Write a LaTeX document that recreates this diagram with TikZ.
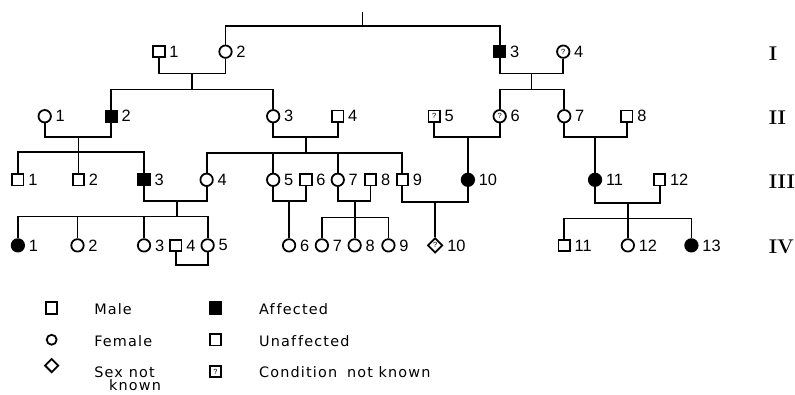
\documentclass[tikz,border=0pt]{standalone}
\usepackage{fontspec}
\newfontfamily\numfont{Liberation Sans}
\newfontfamily\legfont[LetterSpace=8]{DejaVu Sans}
\usetikzlibrary{shapes.geometric}
\newcommand\qmk{{\numfont\fontsize{7.5}{7.5}\selectfont ?}}
\begin{document}
\begin{tikzpicture}[x=1pt,y=-1pt,line width=1.8pt,
  pm/.style={draw,rectangle,minimum size=11.5pt,inner sep=0pt},
  pf/.style={draw,circle,minimum size=12.5pt,inner sep=0pt},
  pu/.style={draw,diamond,minimum size=15pt,inner sep=0pt},
  aff/.style={fill=black},
  every label/.style={font=\numfont\fontsize{16.5}{16.5}\selectfont,inner sep=0.5pt},
  label distance=2.5pt,
  rom/.style={font=\bfseries\fontsize{20}{20}\selectfont,anchor=west,inner sep=0pt},
  leg/.style={font=\legfont\fontsize{14.5}{15}\selectfont,anchor=west,inner sep=0pt},
  con/.style={line width=1.8pt}]
\fill[white] (0,0) rectangle (795,397);
% Generation I
\node[pm,label=right:1] (I1) at (160,52) {};
\node[pf,label=right:2] (I2) at (227,52) {};
\node[pm,aff,label=right:3] (I3) at (503,52) {};
\node[pf,label=right:4] (I4) at (567,52) {\qmk};
% Generation II
\node[pf,label=right:1] (II1) at (45,117) {};
\node[pm,aff,label=right:2] (II2) at (112,117) {};
\node[pf,label=right:3] (II3) at (275,117) {};
\node[pm,label=right:4] (II4) at (340,117) {};
\node[pm,label=right:5] (II5) at (437,117) {\qmk};
\node[pf,label=right:6] (II6) at (503,117) {\qmk};
\node[pf,label=right:7] (II7) at (568,117) {};
\node[pm,label=right:8] (II8) at (631,117) {};
% Generation III
\node[pm,label=right:1] (III1) at (18,181) {};
\node[pm,label=right:2] (III2) at (79,181) {};
\node[pm,aff,label=right:3] (III3) at (145,181) {};
\node[pf,label=right:4] (III4) at (208,181) {};
\node[pf,label=right:5] (III5) at (275,181) {};
\node[pm,label=right:6] (III6) at (308,181) {};
\node[pf,label=right:7] (III7) at (340,181) {};
\node[pm,label=right:8] (III8) at (373,181) {};
\node[pm,label=right:9] (III9) at (405,181) {};
\node[pf,aff,label=right:10] (III10) at (471,181) {};
\node[pf,aff,label=right:11] (III11) at (599,181) {};
\node[pm,label=right:12] (III12) at (664,181) {};
% Generation IV
\node[pf,aff,label=right:1] (IV1) at (18,247) {};
\node[pf,label=right:2] (IV2) at (78,247) {};
\node[pf,label=right:3] (IV3) at (145,247) {};
\node[pm,label=right:4] (IV4) at (177,247) {};
\node[pf,label=right:5] (IV5) at (209,247) {};
\node[pf,label=right:6] (IV6) at (291,247) {};
\node[pf,label=right:7] (IV7) at (324,247) {};
\node[pf,label=right:8] (IV8) at (357,247) {};
\node[pf,label=right:9] (IV9) at (391,247) {};
\node[pu,label=right:10] (IV10) at (438,247) {\qmk};
\node[pm,label=right:11] (IV11) at (568,247) {};
\node[pf,label=right:12] (IV12) at (632,247) {};
\node[pf,aff,label=right:13] (IV13) at (696,247) {};
% Roman numerals
\node[rom] (rI) at (773,54) {I};
\node[rom] (rII) at (773,118) {II};
\node[rom] (rIII) at (773,183) {III};
\node[rom] (rIV) at (773,248) {IV};
% connectors
\coordinate (top) at (365,26);
\coordinate (topt) at (365,12);
\draw[con] (I2.north) |- (top) -| (I3.north);
\draw[con] (top) -- (topt);
% I1 x I2
\coordinate (mA) at (193,74); \coordinate (sA) at (193,90);
\draw[con] (I1.south) |- (mA) -| (I2.south);
\draw[con] (mA) -- (sA);
\draw[con] (II2.north) |- (sA) -| (II3.north);
% I3 x I4
\coordinate (mB) at (535,74); \coordinate (sB) at (535,90);
\draw[con] (I3.south) |- (mB) -| (I4.south);
\draw[con] (mB) -- (sB);
\draw[con] (II6.north) |- (sB) -| (II7.north);
% II1 x II2
\coordinate (mC) at (79,138); \coordinate (sC) at (79,153);
\draw[con] (II1.south) |- (mC) -| (II2.south);
\draw[con] (mC) -- (sC);
\draw[con] (III1.north) |- (sC) -| (III3.north);
\draw[con] (sC) -- (III2.north);
% II3 x II4
\coordinate (mD) at (308,138); \coordinate (sD) at (308,154);
\draw[con] (II3.south) |- (mD) -| (II4.south);
\draw[con] (mD) -- (sD);
\draw[con] (III4.north) |- (sD) -| (III9.north);
\draw[con] (III5.north) -- (III5.north |- sD);
\draw[con] (III7.north) -- (III7.north |- sD);
% II5 x II6
\coordinate (mE) at (471,138);
\draw[con] (II5.south) |- (mE) -| (II6.south);
\draw[con] (mE) -- (III10.north);
% II7 x II8
\coordinate (mF) at (599,138);
\draw[con] (II7.south) |- (mF) -| (II8.south);
\draw[con] (mF) -- (III11.north);
% III3 x III4
\coordinate (mG) at (178,202); \coordinate (sG) at (178,218);
\draw[con] (III3.south) |- (mG) -| (III4.south);
\draw[con] (mG) -- (sG);
\draw[con] (IV1.north) |- (sG) -| (IV5.north);
\draw[con] (IV2.north) -- (IV2.north |- sG);
\draw[con] (IV3.north) -- (IV3.north |- sG);
% III5 x III6
\coordinate (mH) at (291,202);
\draw[con] (III5.south) |- (mH) -| (III6.south);
\draw[con] (mH) -- (IV6.north);
% III7 x III8
\coordinate (mJ) at (357,202); \coordinate (sJ) at (357,219);
\draw[con] (III7.south) |- (mJ) -| (III8.south);
\draw[con] (mJ) -- (sJ);
\draw[con] (IV7.north) |- (sJ) -| (IV9.north);
\draw[con] (sJ) -- (IV8.north);
% III9 x III10
\coordinate (mK) at (438,203);
\draw[con] (III9.south) |- (mK) -| (III10.south);
\draw[con] (mK) -- (IV10.north);
% III11 x III12
\coordinate (mL) at (632,204); \coordinate (sL) at (632,220);
\draw[con] (III11.south) |- (mL) -| (III12.south);
\draw[con] (mL) -- (sL);
\draw[con] (IV11.north) |- (sL) -| (IV13.north);
\draw[con] (sL) -- (IV12.north);
% IV4 x IV5
\coordinate (mM) at (193,267);
\draw[con] (IV4.south) |- (mM) -| (IV5.south);
% Legend
\node[pm] (lm) at (52,310) {};
\node[leg] (lmt) at (94,311) {Male};
\node[pf,minimum size=10pt] (lf) at (52,342) {};
\node[leg] (lft) at (94,343) {Female};
\node[pu,minimum size=14pt] (lu) at (52,368) {};
\node[leg] (lut) at (94,375) {Sex\hspace{6pt}not};
\node[leg] (lut2) at (109,388) {known};
\node[pm,aff] (la) at (217,310) {};
\node[leg] (lat) at (260,311) {Af\hspace{2pt}fected};
\node[pm] (lun) at (217,342) {};
\node[leg] (lunt) at (260,343) {Unaf\hspace{2pt}fected};
\node[pm] (lc) at (217,374) {\qmk};
\node[leg] (lct) at (260,375) {Condition\hspace{10pt}not known};
\end{tikzpicture}
\end{document}
